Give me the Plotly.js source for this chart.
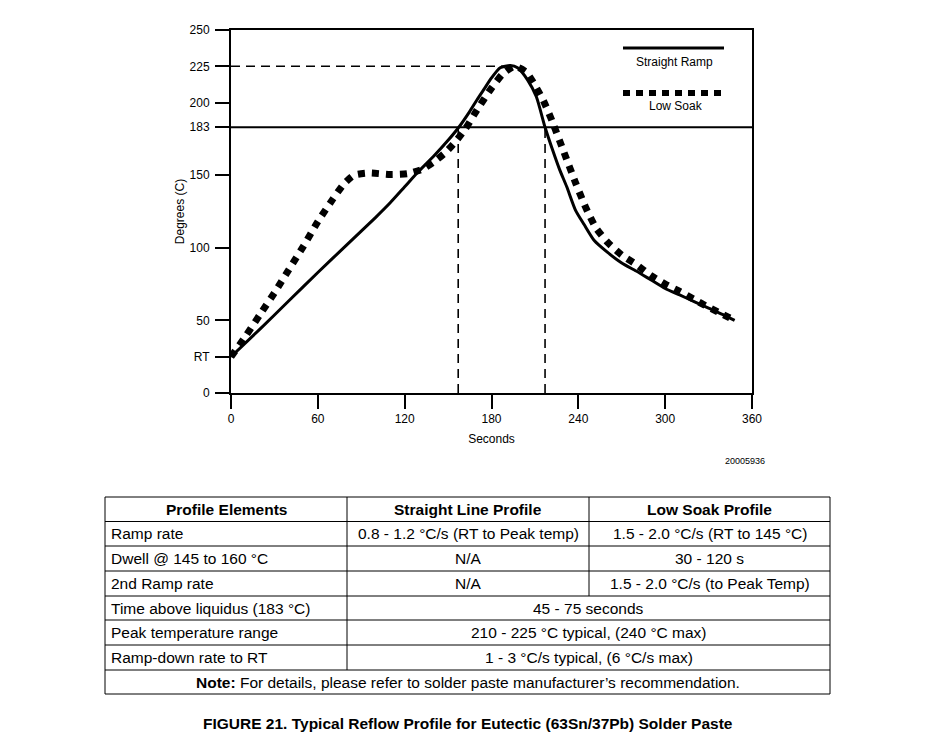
<!DOCTYPE html>
<html><head><meta charset="utf-8">
<script src="https://cdn.plot.ly/plotly-3.0.1.min.js"></script>
<style>body{margin:0;background:#fff}#chart{width:930px;height:749px}</style>
</head><body><div id="chart"></div>
<script>
// ---- data ----
const straightTime = [0, 20, 40, 60, 80, 100, 110, 120, 130, 140, 150, 157, 165, 170, 175, 180, 186, 193, 198, 205, 211, 217, 222, 227, 232, 238, 244, 251, 260, 270, 280, 290, 300, 310, 320, 330, 340, 348];
const straightTemp = [25, 44, 63.5, 83, 102, 121, 131, 142, 153, 163, 174, 182.5, 194, 202, 209.5, 217, 224, 225.5, 224, 215.5, 204, 183, 168, 154, 142, 126, 116, 105, 97, 89.5, 84, 78, 72, 67.5, 63, 58.5, 54, 50];
const soakTime = [0, 10, 20, 30, 40, 50, 60, 70, 78, 85, 95, 110, 122, 132, 140, 148, 155, 162, 170, 180, 188, 196, 204, 210, 216, 222, 230, 238, 245, 252, 260, 270, 280, 290, 300, 310, 320, 330, 340, 348];
const soakTemp = [25, 39, 54, 69, 85, 101, 118, 133, 144, 150, 151.5, 150.5, 151, 154, 159, 165.5, 173, 182, 195, 210, 220, 225, 221, 212, 201, 187, 166, 145, 128, 114, 104, 95, 88.5, 81, 75, 70, 64.5, 59, 54, 50];
const xTickVals = [0, 60, 120, 180, 240, 300, 360];
const yTickVals = [0, 25, 50, 100, 150, 183, 200, 225, 250];
const yTickText = ['0', 'RT', '50', '100', '150', '183', '200', '225', '250'];
const liquidus = 183;
const peakTemp = 225;
const peakTimeMark = 190;
const liquidusCrossings = [157, 217];
const seriesNames = ['Straight Ramp', 'Low Soak'];
const figureId = '20005936';
const caption = 'FIGURE 21. Typical Reflow Profile for Eutectic (63Sn/37Pb) Solder Paste';
const tableHeader = ['Profile Elements', 'Straight Line Profile', 'Low Soak Profile'];
const profileElements = ['Ramp rate', 'Dwell @ 145 to 160 °C', '2nd Ramp rate', 'Time above liquidus (183 °C)', 'Peak temperature range', 'Ramp-down rate to RT'];
const straightLineProfile = ['0.8 - 1.2 °C/s (RT to Peak temp)', 'N/A', 'N/A'];
const lowSoakProfile = ['1.5 - 2.0 °C/s (RT to 145 °C)', '30 - 120 s', '1.5 - 2.0 °C/s (to Peak Temp)'];
const sharedProfile = [null, null, null, '45 - 75 seconds', '210 - 225 °C typical, (240 °C max)', '1 - 3 °C/s typical, (6 °C/s max)'];
const tableNote = '<b>Note:</b> For details, please refer to solder paste manufacturer\u2019s recommendation.';

// ---- layout geometry (pixels) ----
const W = 930, H = 749;
const L = 231, R = 752, T = 30, B = 393;
const fx = p => (p - L) / (R - L);
const fy = p => (B - p) / (B - T);
const FONT = '"Liberation Sans", Arial, Helvetica, sans-serif';

const traces = [
  {x: straightTime, y: straightTemp, name: seriesNames[0], mode: 'lines',
   line: {color: '#000', width: 3, shape: 'spline', smoothing: 0.6}, hoverinfo: 'skip'},
  {x: soakTime, y: soakTemp, name: seriesNames[1], mode: 'lines',
   line: {color: '#000', width: 7, dash: '7px,7px', shape: 'spline', smoothing: 0.6}, hoverinfo: 'skip'}
];

const shapes = [];
const annotations = [];

// reference lines
shapes.push({type: 'line', xref: 'x', yref: 'y', x0: 0, x1: 360, y0: liquidus, y1: liquidus, layer: 'below',
  line: {color: '#000', width: 2}});
shapes.push({type: 'line', xref: 'x', yref: 'y', x0: 0, x1: peakTimeMark, y0: peakTemp, y1: peakTemp, layer: 'below',
  line: {color: '#000', width: 1.6, dash: '9px,6px'}});
liquidusCrossings.forEach(t => shapes.push({type: 'line', xref: 'x', yref: 'y', x0: t, x1: t, y0: 0, y1: liquidus, layer: 'below',
  line: {color: '#000', width: 1.6, dash: '9px,6px'}}));

// custom legend
shapes.push({type: 'line', xref: 'paper', yref: 'paper', x0: fx(623), x1: fx(724), y0: fy(48), y1: fy(48),
  line: {color: '#000', width: 3}});
shapes.push({type: 'line', xref: 'paper', yref: 'paper', x0: fx(623), x1: fx(726), y0: fy(93), y1: fy(93),
  line: {color: '#000', width: 6, dash: '7px,6px'}});
annotations.push({xref: 'paper', yref: 'paper', x: fx(674), y: fy(62), text: seriesNames[0], showarrow: false,
  xanchor: 'center', yanchor: 'middle', font: {family: FONT, size: 12, color: '#000'}});
annotations.push({xref: 'paper', yref: 'paper', x: fx(676), y: fy(106), text: seriesNames[1], showarrow: false,
  xanchor: 'center', yanchor: 'middle', font: {family: FONT, size: 12, color: '#000'}});

// figure id
annotations.push({xref: 'paper', yref: 'paper', x: fx(767), y: fy(461), text: figureId, showarrow: false,
  xanchor: 'right', yanchor: 'middle', font: {family: FONT, size: 9, color: '#000'}});

// table
const tL = 105, tR = 830, c1 = 347, c2 = 589;
const rowsY = [497, 521.5, 546, 571, 596, 620, 645, 670, 694];
const tline = (x0, y0, x1, y1) => shapes.push({type: 'line', xref: 'paper', yref: 'paper',
  x0: fx(x0), x1: fx(x1), y0: fy(y0), y1: fy(y1), line: {color: '#000', width: 1}});
rowsY.forEach(y => tline(tL, y, tR, y));
tline(tL, rowsY[0], tL, rowsY[8]);
tline(tR, rowsY[0], tR, rowsY[8]);
tline(c1, rowsY[0], c1, rowsY[7]);
tline(c2, rowsY[0], c2, rowsY[4]);
const TS = 15.5;
const tText = (x, y, text, anchor, bold) => annotations.push({xref: 'paper', yref: 'paper', x: fx(x), y: fy(y),
  text: bold ? '<b>' + text + '</b>' : text, showarrow: false, xanchor: anchor, yanchor: 'middle',
  font: {family: FONT, size: TS, color: '#000'}});
const mid = i => (rowsY[i] + rowsY[i + 1]) / 2;
tText((tL + c1) / 2, mid(0), tableHeader[0], 'center', true);
tText((c1 + c2) / 2, mid(0), tableHeader[1], 'center', true);
tText((c2 + tR) / 2, mid(0), tableHeader[2], 'center', true);
profileElements.forEach((s, i) => {
  tText(tL + 4, mid(i + 1), s, 'left', false);
  if (sharedProfile[i]) {
    tText((c1 + tR) / 2, mid(i + 1), sharedProfile[i], 'center', false);
  } else {
    tText((c1 + c2) / 2, mid(i + 1), straightLineProfile[i], 'center', false);
    tText((c2 + tR) / 2, mid(i + 1), lowSoakProfile[i], 'center', false);
  }
});
tText((tL + tR) / 2, mid(7), tableNote, 'center', false);

// caption
annotations.push({xref: 'paper', yref: 'paper', x: fx(468), y: fy(723), text: '<b>' + caption + '</b>', showarrow: false,
  xanchor: 'center', yanchor: 'middle', font: {family: FONT, size: 15.5, color: '#000'}});

const axisCommon = {
  showgrid: false, zeroline: false, showline: true, linecolor: '#000', linewidth: 2, mirror: true,
  ticks: 'outside', ticklen: 14, tickwidth: 2, tickcolor: '#000',
  tickfont: {family: FONT, size: 12, color: '#000'}, fixedrange: true
};

const layout = {
  width: W, height: H,
  margin: {l: L, r: W - R, t: T, b: H - B, pad: 0},
  paper_bgcolor: '#fff', plot_bgcolor: '#fff',
  showlegend: false,
  font: {family: FONT, color: '#000'},
  xaxis: Object.assign({}, axisCommon, {range: [0, 360], tickmode: 'array', tickvals: xTickVals,
    title: {text: 'Seconds', font: {family: FONT, size: 12, color: '#000'}, standoff: 9}}),
  yaxis: Object.assign({}, axisCommon, {range: [0, 250], tickmode: 'array', tickvals: yTickVals, ticktext: yTickText,
    ticklabelstandoff: 3,
    title: {text: 'Degrees (C)', font: {family: FONT, size: 12, color: '#000'}, standoff: 2}}),
  shapes: shapes,
  annotations: annotations
};

Plotly.newPlot('chart', traces, layout, {displayModeBar: false, staticPlot: true});
</script>
</body></html>
